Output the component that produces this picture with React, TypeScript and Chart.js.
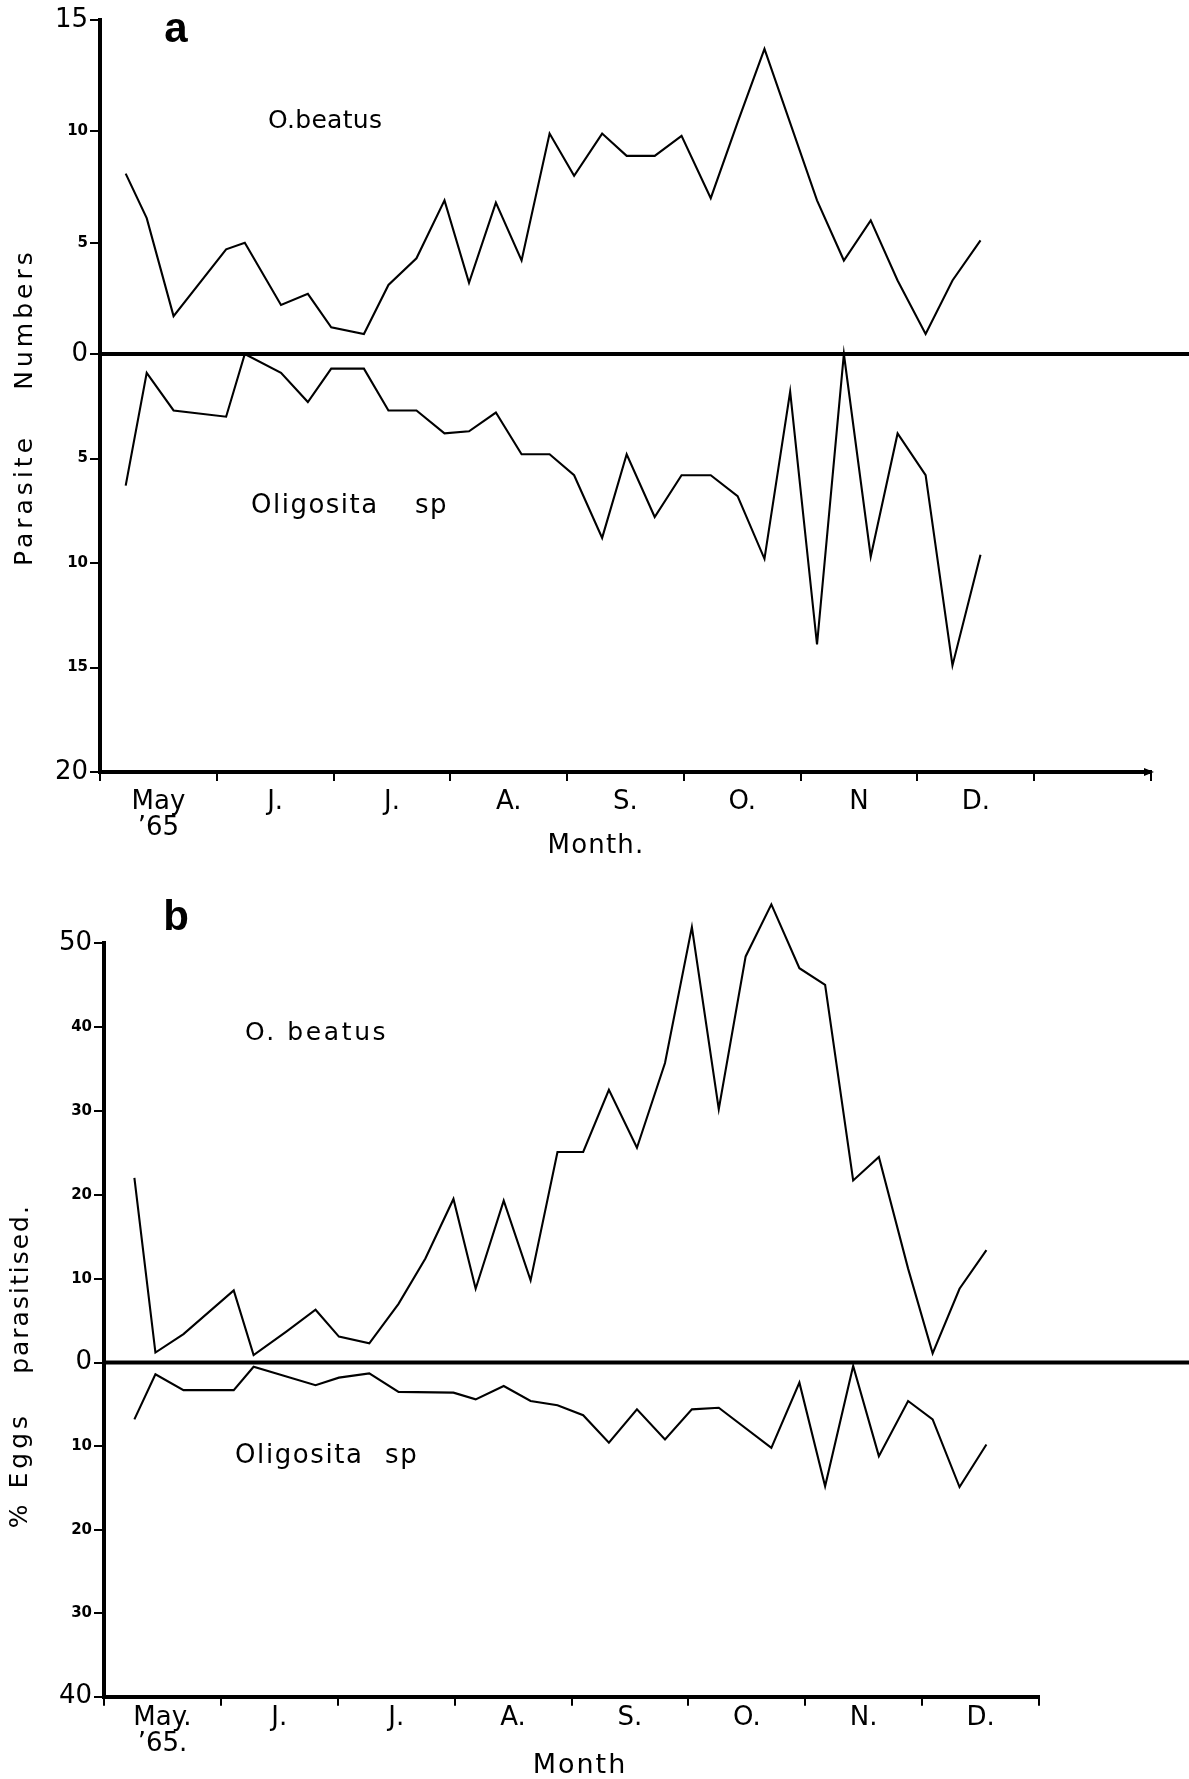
import React, { useEffect, useRef } from 'react';
import { Chart, registerables } from 'chart.js';

Chart.register(...registerables);

// ---------------- Data ----------------
// Panel a: parasite numbers (sample dates in months after 1 May 1965)
const datesA = [0.22, 0.40, 0.63, 1.08, 1.24, 1.55, 1.78, 1.98, 2.26, 2.47, 2.71, 2.95, 3.16, 3.39, 3.61, 3.85, 4.06, 4.30, 4.51, 4.75, 4.98, 5.23, 5.46, 5.69, 5.91, 6.14, 6.37, 6.60, 6.83, 7.07, 7.30, 7.54];
const beatusNumbers = [8.1, 6.1, 1.7, 4.7, 5.0, 2.2, 2.7, 1.2, 0.9, 3.1, 4.3, 6.9, 3.2, 6.8, 4.2, 9.9, 8.0, 9.9, 8.9, 8.9, 9.8, 7.0, 10.4, 13.7, null, 6.9, 4.2, 6.0, 3.3, 0.9, 3.3, 5.1];
const oligositaNumbers = [6.3, 0.9, 2.7, 3.0, 0.0, 0.9, 2.3, 0.7, 0.7, 2.7, 2.7, 3.8, 3.7, 2.8, 4.8, 4.8, 5.8, 8.8, 4.8, 7.8, 5.8, 5.8, 6.8, 9.8, 1.8, 13.9, 0.0, 9.7, 3.8, 5.8, 14.9, 9.6];

// Panel b: % eggs parasitised
const datesB = [0.26, 0.44, 0.68, 1.11, 1.28, 1.56, 1.81, 2.01, 2.27, 2.52, 2.75, 2.99, 3.18, 3.42, 3.65, 3.88, 4.10, 4.32, 4.56, 4.80, 5.03, 5.26, 5.49, 5.71, 5.95, 6.17, 6.41, 6.63, 6.88, 7.09, 7.32, 7.55];
const beatusPercent = [22.0, 1.2, 3.4, 8.6, 0.9, 3.7, 6.3, 3.1, 2.3, 7.0, 12.4, 19.5, 8.8, 19.3, 9.8, 25.1, 25.1, 32.5, 25.6, 35.7, 51.9, 30.2, 48.4, 54.6, 47.0, 45.0, 21.7, 24.5, 11.2, 1.1, 8.8, 13.4];
const oligositaPercent = [6.8, 1.4, 3.3, 3.3, 0.5, null, 2.7, 1.8, 1.3, 3.5, null, 3.6, 4.4, 2.8, 4.6, 5.1, 6.3, 9.6, 5.6, 9.2, 5.6, 5.4, null, 10.2, 2.4, 14.8, 0.4, 11.2, 4.6, 6.8, 14.9, 9.8];

// Tick labels
const monthLabelsA: (string | string[])[] = [['May', '\u201965'], 'J.', 'J.', 'A.', 'S.', 'O.', 'N', 'D.', ''];
const monthLabelsB: (string | string[])[] = [['May.', '\u201965.'], 'J.', 'J.', 'A.', 'S.', 'O.', 'N.', 'D.'];
const bigTicksUpperA = [0, 15];
const bigTicksLowerA = [20];
const bigTicksUpperB = [0, 50];
const bigTicksLowerB = [40];

// ---------------- Rendering ----------------
const W = 1189;
const FAM = '"DejaVu Sans", sans-serif';

type Txt = {
  text: string; x: number; y: number; font: string;
  align?: CanvasTextAlign; baseline?: CanvasTextBaseline; spacing?: number; rotate?: boolean;
};

type Spec = {
  height: number;
  area: { left: number; right: number; top: number; zero: number; bottom: number };
  xMax: number;
  dates: number[];
  upper: (number | null)[];
  lower: (number | null)[];
  upperMax: number;
  lowerMax: number;
  step: number;
  bigUpper: number[];
  bigLower: number[];
  months: (string | string[])[];
  labelPad: number;
  arrow: boolean;
  texts: Txt[];
};

function overlayPlugin(s: Spec) {
  return {
    id: 'overlay',
    afterDraw(chart: any) {
      const ctx: CanvasRenderingContext2D = chart.ctx;
      const yz = chart.scales.yTop.getPixelForValue(0);
      ctx.save();
      ctx.strokeStyle = '#000';
      ctx.lineWidth = 4;
      ctx.beginPath();
      ctx.moveTo(chart.chartArea.left, yz);
      ctx.lineTo(chart.width, yz);
      ctx.stroke();
      if (s.arrow) {
        const xs = chart.scales.x;
        const ax = xs.right;
        const ay = xs.top;
        ctx.fillStyle = '#000';
        ctx.beginPath();
        ctx.moveTo(ax - 7, ay - 4);
        ctx.lineTo(ax + 3, ay);
        ctx.lineTo(ax - 7, ay + 4);
        ctx.closePath();
        ctx.fill();
      }
      ctx.fillStyle = '#000';
      for (const t of s.texts) {
        ctx.save();
        ctx.font = t.font;
        (ctx as any).letterSpacing = `${t.spacing ?? 0}px`;
        ctx.textAlign = t.align ?? 'left';
        ctx.textBaseline = t.baseline ?? 'alphabetic';
        ctx.translate(t.x, t.y);
        if (t.rotate) ctx.rotate(-Math.PI / 2);
        ctx.fillText(t.text, 0, 0);
        ctx.restore();
      }
      ctx.restore();
    },
  };
}

function buildConfig(s: Spec): any {
  const yTickFont = (big: number[]) => (c: any) =>
    big.includes(c.tick?.value)
      ? { family: FAM, size: 26, weight: 'normal' }
      : { family: FAM, size: 15, weight: 'bold' };
  const lineStyle = {
    borderColor: '#000',
    borderWidth: 2.1,
    pointRadius: 0,
    tension: 0,
    spanGaps: true,
    fill: false,
    clip: false,
  };
  const yGrid = { drawOnChartArea: false, drawTicks: true, tickLength: 10, color: '#000', lineWidth: 2 };
  const yBorder = { display: true, color: '#000', width: 4 };
  return {
    type: 'line',
    data: {
      datasets: [
        { ...lineStyle, label: 'O. beatus', yAxisID: 'yTop', data: s.dates.map((d, i) => ({ x: d, y: s.upper[i] })) },
        { ...lineStyle, label: 'Oligosita sp', yAxisID: 'yBot', data: s.dates.map((d, i) => ({ x: d, y: s.lower[i] })) },
      ],
    },
    options: {
      responsive: false,
      animation: false,
      devicePixelRatio: 1,
      layout: { padding: { left: 0, top: s.area.top, right: W - s.area.right, bottom: 0 } },
      plugins: { legend: { display: false }, tooltip: { enabled: false } },
      scales: {
        x: {
          type: 'linear',
          position: 'bottom',
          min: 0,
          max: s.xMax,
          afterBuildTicks: (sc: any) => {
            sc.ticks = s.months.map((_, i) => ({ value: i + 0.5 }));
          },
          afterFit: (sc: any) => {
            sc.height = s.height - s.area.bottom;
          },
          grid: { offset: true, drawOnChartArea: false, drawTicks: true, tickLength: 9, color: '#000', lineWidth: 2 },
          border: { display: true, color: '#000', width: 4 },
          ticks: {
            autoSkip: false,
            maxRotation: 0,
            minRotation: 0,
            padding: s.labelPad,
            color: '#000',
            font: { family: FAM, size: 26, lineHeight: 1 },
            callback: (_v: any, i: number) => s.months[i],
          },
        },
        yTop: {
          type: 'linear',
          position: 'left',
          stack: 'panel',
          stackWeight: s.area.zero - s.area.top,
          weight: 1,
          min: 0,
          max: s.upperMax,
          afterFit: (sc: any) => {
            sc.width = s.area.left;
          },
          grid: yGrid,
          border: yBorder,
          ticks: {
            stepSize: s.step,
            padding: 2,
            color: '#000',
            font: yTickFont(s.bigUpper),
            callback: (v: any) => String(v),
          },
        },
        yBot: {
          type: 'linear',
          position: 'left',
          stack: 'panel',
          stackWeight: s.area.bottom - s.area.zero,
          weight: 0,
          reverse: true,
          min: 0,
          max: s.lowerMax,
          afterFit: (sc: any) => {
            sc.width = s.area.left;
          },
          grid: yGrid,
          border: yBorder,
          ticks: {
            stepSize: s.step,
            padding: 2,
            color: '#000',
            font: yTickFont(s.bigLower),
            callback: (v: any) => (v === 0 ? '' : String(v)),
          },
        },
      },
    },
    plugins: [overlayPlugin(s)],
  };
}

const specA: Spec = {
  height: 860,
  area: { left: 100, right: 1151, top: 20, zero: 354, bottom: 772 },
  xMax: 9,
  dates: datesA,
  upper: beatusNumbers,
  lower: oligositaNumbers,
  upperMax: 15,
  lowerMax: 20,
  step: 5,
  bigUpper: bigTicksUpperA,
  bigLower: bigTicksLowerA,
  months: monthLabelsA,
  labelPad: 8,
  arrow: true,
  texts: [
    { text: 'a', x: 176, y: 42, font: 'bold 42px "Liberation Sans", sans-serif', align: 'center' },
    { text: 'O.beatus', x: 268, y: 128, font: `25px ${FAM}`, spacing: 0.3 },
    { text: 'Oligosita', x: 251, y: 513, font: `26px ${FAM}`, spacing: 1.5 },
    { text: 'sp', x: 415, y: 513, font: `26px ${FAM}`, spacing: 1.5 },
    { text: 'Month.', x: 596, y: 853, font: `26px ${FAM}`, spacing: 1.2, align: 'center' },
    { text: 'Numbers', x: 25, y: 319, font: `25px ${FAM}`, spacing: 4, align: 'center', baseline: 'middle', rotate: true },
    { text: 'Parasite', x: 25, y: 500, font: `25px ${FAM}`, spacing: 4, align: 'center', baseline: 'middle', rotate: true },
  ],
};

const specB: Spec = {
  height: 919,
  area: { left: 104, right: 1039, top: 83, zero: 502.6, bottom: 836.7 },
  xMax: 8,
  dates: datesB,
  upper: beatusPercent,
  lower: oligositaPercent,
  upperMax: 50,
  lowerMax: 40,
  step: 10,
  bigUpper: bigTicksUpperB,
  bigLower: bigTicksLowerB,
  months: monthLabelsB,
  labelPad: 0,
  arrow: false,
  texts: [
    { text: 'b', x: 176, y: 70, font: 'bold 42px "Liberation Sans", sans-serif', align: 'center' },
    { text: 'O. beatus', x: 245, y: 180, font: `25px ${FAM}`, spacing: 2.6 },
    { text: 'Oligosita', x: 235, y: 603, font: `26px ${FAM}`, spacing: 1.6 },
    { text: 'sp', x: 385, y: 603, font: `26px ${FAM}`, spacing: 1.6 },
    { text: 'Month', x: 580, y: 913, font: `27px ${FAM}`, spacing: 2, align: 'center' },
    { text: 'parasitised.', x: 21, y: 429, font: `25px ${FAM}`, spacing: 2, align: 'center', baseline: 'middle', rotate: true },
    { text: '% Eggs', x: 20, y: 610, font: `25px ${FAM}`, spacing: 4, align: 'center', baseline: 'middle', rotate: true },
  ],
};

function Panel({ spec, top }: { spec: Spec; top: number }) {
  const ref = useRef<HTMLCanvasElement>(null);
  useEffect(() => {
    const chart = new Chart(ref.current as HTMLCanvasElement, buildConfig(spec));
    return () => chart.destroy();
  }, [spec]);
  return (
    <canvas
      ref={ref}
      width={W}
      height={spec.height}
      style={{ position: 'absolute', left: 0, top, width: W, height: spec.height, display: 'block' }}
    />
  );
}

export default function App() {
  return (
    <div style={{ position: 'absolute', left: 0, top: 0, width: W, height: 1779, background: '#fff', overflow: 'hidden' }}>
      <Panel spec={specA} top={0} />
      <Panel spec={specB} top={860} />
    </div>
  );
}
